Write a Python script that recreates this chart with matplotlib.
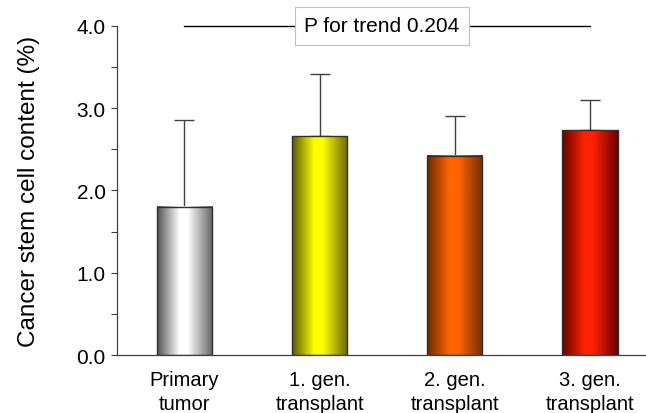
import numpy as np
import matplotlib.pyplot as plt
from matplotlib.colors import to_rgb

plt.rcParams['font.family'] = ['Liberation Sans', 'DejaVu Sans']

groups = ['Primary\ntumor', '1. gen.\ntransplant', '2. gen.\ntransplant', '3. gen.\ntransplant']
means = [1.80, 2.66, 2.42, 2.73]
sd_up = [1.06, 0.76, 0.49, 0.37]
p_trend = 0.204

# shading per bar: left edge, middle, right edge
shades = [
    ('#505050', '#ffffff', '#646464'),
    ('#585800', '#ffff00', '#686800'),
    ('#6a2800', '#ff6600', '#762e00'),
    ('#660000', '#ff2200', '#6c0000'),
]
bar_w = 0.41

fig = plt.figure(figsize=(6.46, 4.14), dpi=100)
ax = fig.add_axes([0.181, 0.140, 0.819, 0.795])

x = np.arange(len(means))
bars = ax.bar(x, means, bar_w, color='none', edgecolor='#303030', linewidth=1.0, zorder=3)

# horizontal gradient inside each bar
pos = np.linspace(0, 1, 200)
for b, (c0, c1, c2) in zip(bars, shades):
    stops = np.array([to_rgb(c0), to_rgb(c1), to_rgb(c1), to_rgb(c2)])
    sp = [0.0, 0.4, 0.55, 1.0]
    rgb = np.stack([np.interp(pos, sp, stops[:, k]) for k in range(3)], axis=-1)
    x0 = b.get_x()
    ax.imshow(rgb[np.newaxis, :, :], extent=(x0, x0 + b.get_width(), 0, b.get_height()),
              aspect='auto', zorder=2, interpolation='bilinear')

ax.errorbar(x, means, yerr=[np.zeros(len(means)), sd_up], fmt='none',
            ecolor='#404040', elinewidth=1.0, capsize=7, capthick=1.0, zorder=1)

ax.set_xlim(-0.5, 3.415)
ax.set_ylim(0, 4.0)
ax.set_yticks([0, 1, 2, 3, 4])
ax.set_yticklabels(['0.0', '1.0', '2.0', '3.0', '4.0'], fontsize=15)
ax.set_yticks([0.5, 1.5, 2.5, 3.5], minor=True)
ax.tick_params(axis='y', which='both', direction='out', length=4, width=0.8, color='#404040', pad=4)
ax.set_xticks(x)
ax.set_xticklabels(groups, fontsize=14.5, linespacing=1.3)
ax.tick_params(axis='x', length=0, pad=11)
ax.set_ylabel('Cancer stem cell content (%)', fontsize=17.5, labelpad=26)

for s in ['top', 'right']:
    ax.spines[s].set_visible(False)
for s in ['left', 'bottom']:
    ax.spines[s].set_color('#404040')
    ax.spines[s].set_linewidth(0.9)

# trend line with boxed p value
ax.plot([x[0], x[-1]], [4.0, 4.0], color='black', lw=1.0, clip_on=False, zorder=4)
ax.text((x[0] + x[-1]) / 2 - 0.04, 4.0, f'P for trend {p_trend:.3f}', fontsize=15,
        ha='center', va='center', zorder=5,
        bbox=dict(boxstyle='square,pad=0.45', fc='white', ec='#c0c0c0', lw=0.8))

fig.savefig('out.png', dpi=100)
